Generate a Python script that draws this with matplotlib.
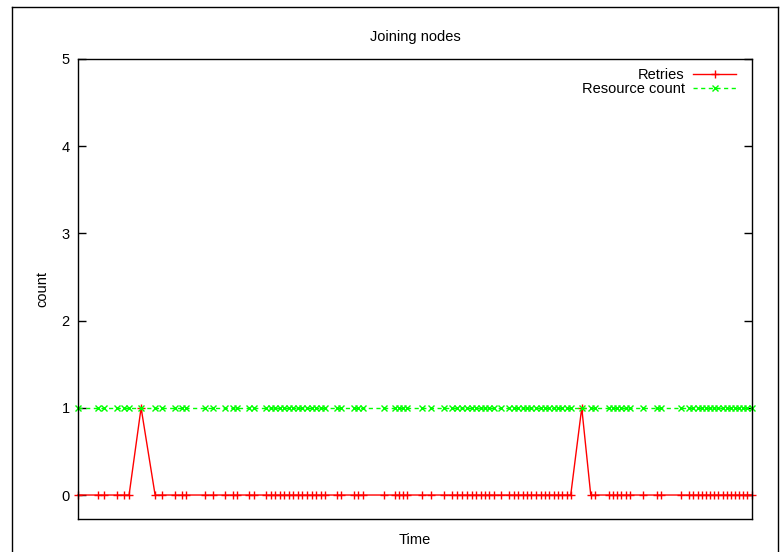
import matplotlib.pyplot as plt
from matplotlib.lines import Line2D

plt.rcParams['font.family'] = ['Liberation Sans', 'DejaVu Sans']

# tiempos de muestreo (unidades arbitrarias, sin etiquetas en el eje)
time = [0, 20, 26, 39, 46, 51, 63, 77, 84, 97, 104, 108, 127, 135, 147, 155, 159,
        171, 176, 188, 193, 197, 202, 206, 211, 215, 220, 224, 229, 234, 238, 243,
        247, 259, 263, 276, 280, 285, 306, 317, 321, 325, 329, 343, 352, 365, 373,
        378, 383, 388, 393, 397, 402, 406, 410, 415, 422, 430, 435, 439, 444, 448,
        452, 457, 462, 466, 470, 475, 479, 483, 488, 492, 503, 512, 516, 530, 534,
        538, 542, 547, 551, 564, 578, 582, 602, 610, 614, 619, 623, 627, 631, 635,
        639, 644, 648, 652, 656, 660, 664, 668, 673]
retries = [1 if t in (63, 503) else 0 for t in time]
resource_count = [1] * len(time)

fs = 10.5
fig = plt.figure(figsize=(7.8, 5.52), dpi=100)
ax = fig.add_axes([78 / 780, 1 - 519 / 552, (752 - 78) / 780, (519 - 59) / 552])

ax.plot(time, retries, color='#ff0000', lw=1, marker='+', ms=6, mew=1,
        clip_on=False, label='Retries')
ax.plot(time, resource_count, color='#00ff00', lw=1, ls=(0, (3, 2.5)), marker='x',
        ms=5, mew=1, clip_on=False, label='Resource count')

ax.set_xlim(time[0], time[-1])
ax.set_ylim(-0.275, 5)
ax.set_yticks([0, 1, 2, 3, 4, 5])
ax.set_xticks([])
ax.tick_params(axis='y', direction='in', length=6, width=1, right=True,
               labelsize=fs, pad=6)
for s in ax.spines.values():
    s.set_linewidth(1)

ax.set_title('Joining nodes', fontsize=fs, pad=13)
ax.set_xlabel('Time', fontsize=fs, labelpad=10)
ax.set_ylabel('count', fontsize=fs, labelpad=9)

handles = [Line2D([], [], color='#ff0000', lw=1, marker='+', ms=6),
           Line2D([], [], color='#00ff00', lw=1, ls=(0, (3, 2.5)), marker='x', ms=5)]
ax.legend(handles, ['Retries', 'Resource count'], loc='upper right', frameon=False,
          markerfirst=False, fontsize=fs, handlelength=3.0, handletextpad=0.55,
          labelspacing=0.0, borderaxespad=0.3, bbox_to_anchor=(0.992, 1.003))

# marco exterior
fig.add_artist(Line2D([12 / 780, 12 / 780], [0, 1 - 7 / 552], color='black', lw=1))
fig.add_artist(Line2D([12 / 780, 778 / 780], [1 - 7 / 552, 1 - 7 / 552], color='black', lw=1))
fig.add_artist(Line2D([778 / 780, 778 / 780], [0, 1 - 7 / 552], color='black', lw=1))

fig.savefig('out.png', dpi=100)
